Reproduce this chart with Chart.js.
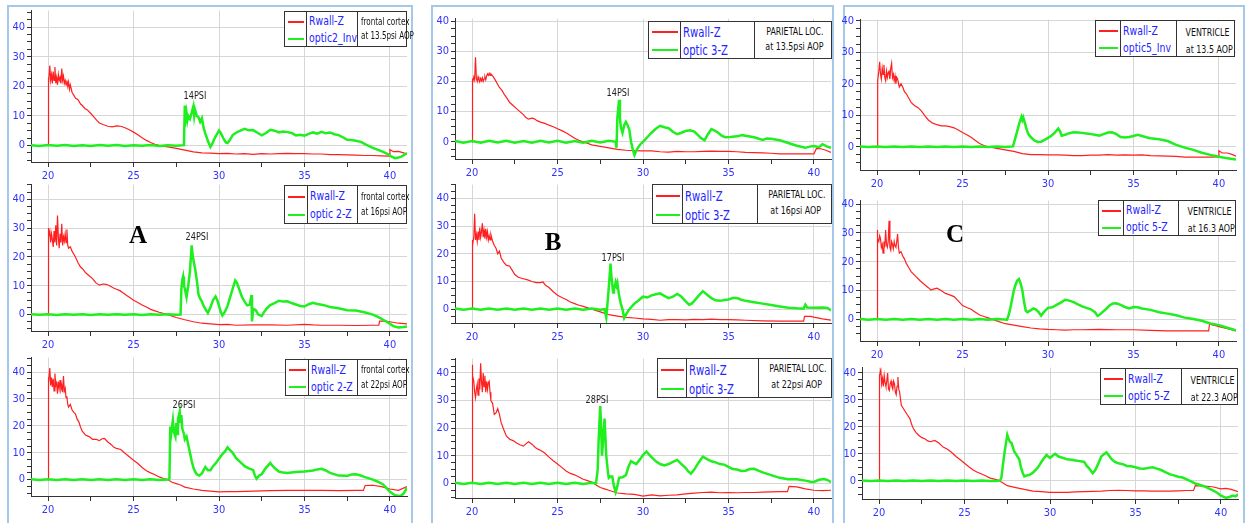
<!DOCTYPE html>
<html>
<head>
<meta charset="utf-8">
<script src="https://cdn.jsdelivr.net/npm/chart.js@4.4.1/dist/chart.umd.min.js"></script>
<style>
  body { margin: 0; width: 1246px; height: 523px; background: #fff; position: relative; overflow: hidden;
         font-family: 'Liberation Sans Narrow', 'DejaVu Sans Condensed', 'Liberation Sans', sans-serif; }
  .panel { position: absolute; border: 2px solid #a6c8e8; box-sizing: border-box; }
  canvas { position: absolute; }
  .lg { position: absolute; border: 1px solid #333; background: #fff; box-sizing: border-box; }
  .cell { position: absolute; top: 0; bottom: 0; }
  .sep { border-left: 1px solid #333; }
  .row { position: absolute; left: 0; right: 0; white-space: nowrap; }
  .row span { display: inline-block; }
  .swatch { position: absolute; left: 3px; right: 3px; height: 2px; }
  .note { position: absolute; color: #222; font-size: 11px; white-space: nowrap; transform: translate(-50%, -50%) scaleX(0.82); }
  .big { position: absolute; font-family: 'Liberation Serif', 'DejaVu Serif', serif; font-weight: bold; font-size: 25px;
         transform: translate(-50%, -50%); color: #000; }
</style>
</head>
<body>
<div class="panel" style="left:7px;top:5px;width:406px;height:540px"></div>
<div class="panel" style="left:431px;top:5px;width:403px;height:540px"></div>
<div class="panel" style="left:843px;top:5px;width:402px;height:540px"></div>
<script>
// ---- data (time in s, value) ----
const xTicks = [20, 22.5, 25, 27.5, 30, 32.5, 35, 37.5, 40];
const yTicks = [-5, -2.5, 0, 2.5, 5, 7.5, 10, 12.5, 15, 17.5, 20, 22.5, 25, 27.5, 30, 32.5, 35, 37.5, 40, 42.5, 45];

const redA1 = [[20,0],[20,23],[20.05,21],[20.1,27],[20.15,22],[20.2,24],[20.25,21],[20.3,25],[20.35,22],[20.4,26.5],[20.45,21],[20.5,23],[20.55,20.5],[20.6,24],[20.65,22],[20.7,23],[20.75,21],[20.8,26],[20.85,22],[20.9,23.5],[20.95,21],[21,22],[21.05,20.5],[21.1,22],[21.15,20],[21.2,21.5],[21.25,19],[21.3,20.5],[21.4,18],[21.5,17],[21.6,16],[21.75,15.5],[21.9,14],[22,13.5],[22.15,12.5],[22.3,12],[22.5,10.8],[22.7,9.5],[22.85,8.5],[23,7.6],[23.25,7],[23.5,6.5],[23.75,6.3],[24,6.6],[24.25,6.5],[24.5,6],[24.75,5.3],[25,4.5],[25.25,3.6],[25.5,2.6],[25.75,1.7],[26,1],[26.25,0.4],[26.5,0],[27,-0.5],[27.5,-1],[28,-1.6],[28.5,-2.2],[29,-2.5],[29.5,-2.6],[30,-2.8],[30.5,-2.7],[31,-2.9],[31.5,-2.8],[32,-3],[32.5,-2.8],[33,-2.9],[33.5,-2.8],[34,-2.7],[34.5,-2.8],[35,-2.8],[35.5,-2.9],[36,-2.9],[36.5,-3.1],[37,-3.1],[37.5,-3.2],[38,-3.3],[38.5,-3.4],[39,-3.4],[39.5,-3.5],[39.95,-3.6],[40,-1.4],[40.2,-2.1],[40.5,-2],[40.8,-2.5],[41,-3]];
const greenA1 = [[19,0.1],[19.5,-0.15],[20,0.15],[20.5,-0.1],[21,0.15],[21.5,-0.15],[22,0.1],[22.5,-0.15],[23,0.15],[23.5,-0.1],[24,0.15],[24.5,-0.15],[25,0.1],[25.5,-0.1],[26,0.15],[26.5,-0.15],[27,0.1],[27.5,-0.1],[27.95,0.1],[28,13.5],[28.05,9],[28.1,11],[28.15,8.5],[28.2,10],[28.3,9],[28.4,11],[28.5,13.2],[28.55,10],[28.6,12],[28.7,10],[28.8,9.5],[28.9,8],[29,9.2],[29.1,6],[29.2,4],[29.35,1.5],[29.5,-0.5],[29.6,0.5],[29.75,2.5],[29.9,4],[30,5],[30.1,4.2],[30.25,2.5],[30.4,1],[30.5,0.8],[30.65,2],[30.8,3.5],[31,4.3],[31.25,5],[31.5,5.6],[31.75,5.1],[32,5.2],[32.25,4.3],[32.5,3.4],[32.75,4.2],[33,5.3],[33.25,5],[33.5,4.4],[33.75,4.7],[34,4.5],[34.25,4.2],[34.5,3.4],[34.75,3.6],[35,3.3],[35.25,3.9],[35.5,4.4],[35.75,4],[36,4.6],[36.25,4.1],[36.5,4.4],[36.75,3.8],[37,3.5],[37.3,2.6],[37.5,1.9],[37.75,1.8],[38,1.6],[38.3,1.2],[38.6,0.3],[39,-0.8],[39.3,-1.5],[39.6,-2.2],[39.9,-3],[40.1,-3.8],[40.3,-4.3],[40.5,-4.1],[40.7,-3.7],[41,-2.6]];

const redA2 = [[20,0],[20,30],[20.05,27],[20.1,29],[20.15,25],[20.2,28],[20.25,26],[20.3,23.5],[20.35,29],[20.4,25],[20.45,31],[20.5,24],[20.55,34.4],[20.6,27],[20.65,23],[20.7,28],[20.75,25],[20.8,31.5],[20.85,24],[20.9,27],[20.95,25.5],[21,28],[21.05,25],[21.1,29.5],[21.15,24],[21.2,23],[21.3,23.5],[21.4,22],[21.5,21],[21.6,20],[21.75,18],[21.9,16.5],[22,16],[22.2,14.5],[22.4,13.5],[22.6,12.5],[22.8,11],[23,10.2],[23.2,10.6],[23.4,10.5],[23.6,10],[23.8,9.3],[24,8.8],[24.2,8.3],[24.4,7.5],[24.6,6.6],[24.8,5.8],[25,5],[25.25,4.2],[25.5,3.3],[25.75,2.6],[26,1.8],[26.25,1.3],[26.5,0.8],[27,0],[27.5,-1],[28,-1.8],[28.5,-2.5],[29,-3],[29.5,-3.2],[30,-3.5],[30.5,-3.4],[31,-3.7],[32,-3.6],[33,-3.6],[34,-3.7],[35,-3.4],[35.5,-3.6],[36,-3.7],[37,-3.7],[38,-3.8],[39,-3.7],[39.35,-3.7],[39.4,-2.3],[39.7,-2.3],[40,-2.5],[40.5,-3],[41,-3.2]];
const greenA2 = [[19,0.1],[19.5,-0.1],[20,0.15],[20.5,-0.15],[21,0.1],[21.5,-0.1],[22,0.15],[22.5,-0.15],[23,0.1],[23.5,-0.1],[24,0.15],[24.5,-0.1],[25,0.1],[25.5,-0.15],[26,0.15],[26.5,-0.1],[27,0.1],[27.5,-0.1],[27.75,0],[27.8,9],[27.85,12],[27.9,13.2],[27.95,10],[28,9],[28.1,6],[28.2,10],[28.3,15],[28.4,24],[28.45,21],[28.5,19],[28.6,16],[28.7,12],[28.8,7],[28.9,5.5],[29,4.5],[29.1,3],[29.2,2],[29.35,0.5],[29.5,2.5],[29.65,5],[29.8,6.3],[29.9,5],[30,3],[30.1,1],[30.2,-0.3],[30.35,1],[30.5,3],[30.65,6],[30.8,9],[30.95,11.8],[31.05,11],[31.2,8.5],[31.35,6],[31.5,4.5],[31.65,3.2],[31.8,3.5],[31.9,6.8],[31.93,-2.4],[32,2],[32.15,1.5],[32.3,0],[32.5,-0.5],[32.65,1],[32.8,2.2],[33,3.3],[33.25,4],[33.5,4.8],[33.75,4.5],[34,4.6],[34.25,4],[34.5,3.5],[34.75,3],[35,2.8],[35.25,3.6],[35.5,4.1],[35.75,3.7],[36,3.4],[36.25,3.1],[36.5,2.6],[37,2.2],[37.5,1.5],[38,1.4],[38.5,0.8],[39,0],[39.3,-0.8],[39.6,-1.8],[39.9,-2.8],[40.2,-4],[40.5,-4.5],[40.8,-4.3],[41,-4.1]];

const redA3 = [[20,0],[20,38],[20.05,36],[20.1,41.5],[20.15,35],[20.2,38],[20.25,34.5],[20.3,37.5],[20.35,33],[20.4,39.5],[20.45,35],[20.5,36],[20.55,32],[20.6,36.5],[20.65,34],[20.7,37],[20.75,33.5],[20.8,35],[20.85,32.5],[20.9,38.5],[20.95,33],[21,34],[21.05,30.5],[21.1,31],[21.15,28],[21.2,27],[21.3,28],[21.4,26],[21.5,25],[21.6,24.5],[21.7,22.5],[21.8,21.5],[21.9,19.5],[22,18],[22.2,16.5],[22.4,16],[22.6,15],[22.8,15],[23,14.5],[23.15,15.2],[23.3,15.3],[23.5,14],[23.7,13],[23.85,12],[24,11.6],[24.25,11.2],[24.5,9.8],[24.75,8.5],[25,7.2],[25.25,6],[25.5,4.5],[25.75,3.3],[26,2.5],[26.25,1.8],[26.5,1],[26.75,0.4],[27,0],[27.25,-1],[27.5,-1.5],[27.75,-2],[28,-2.8],[28.5,-3.5],[29,-4],[29.5,-4.3],[30,-4.6],[30.5,-4.5],[31,-4.5],[32,-4.3],[33,-4.1],[34,-4],[35,-4],[36,-4],[37,-4.1],[38,-4],[38.45,-4],[38.55,-2.2],[39,-2.1],[39.5,-2.6],[40,-3.5],[40.5,-4],[41,-2.6]];
const greenA3 = [[19,0.1],[19.5,-0.15],[20,0.1],[20.5,-0.1],[21,0.15],[21.5,-0.1],[22,0.1],[22.5,-0.15],[23,0.15],[23.5,-0.1],[24,0.1],[24.5,-0.1],[25,0.15],[25.5,-0.15],[26,0.1],[26.5,-0.1],[27.05,0],[27.1,0.5],[27.15,19.8],[27.2,17],[27.3,22],[27.35,18],[27.45,16],[27.5,21],[27.55,17],[27.6,22.5],[27.7,25.3],[27.75,21],[27.8,24],[27.85,19],[27.95,17],[28,15],[28.1,16],[28.2,13],[28.3,10],[28.4,7],[28.5,4.5],[28.6,3],[28.7,2],[28.85,1.5],[29,2.3],[29.2,4.7],[29.35,3.5],[29.5,3.5],[29.65,5],[29.8,6],[30,7.8],[30.2,9.5],[30.35,10.5],[30.5,12],[30.65,11],[30.8,10],[31,8],[31.25,6.5],[31.5,5],[31.75,4.2],[32,3.5],[32.1,1.5],[32.2,0.3],[32.35,1.5],[32.5,2],[32.7,4],[32.9,5.5],[33,6.2],[33.15,5],[33.3,4],[33.5,3],[33.75,2.6],[34,2.5],[34.5,2.8],[35,3],[35.5,3.4],[35.75,3.8],[36,4],[36.25,3.4],[36.5,2.5],[37,1.5],[37.5,1.4],[37.75,1.9],[38,2],[38.25,1.6],[38.5,1],[39,0],[39.3,-0.8],[39.6,-1.8],[40,-4.5],[40.3,-5.8],[40.6,-6.2],[40.8,-5.2],[41,-3]];

const redB1 = [[20,0],[20,21],[20.05,19.5],[20.1,21.5],[20.15,20.5],[20.2,28],[20.25,21],[20.3,20],[20.35,21.5],[20.4,20.5],[20.45,20],[20.5,21],[20.55,20.2],[20.6,21.2],[20.65,20],[20.7,20.8],[20.75,21.5],[20.8,20.5],[20.85,21.8],[20.9,22.5],[20.95,22],[21,22.7],[21.05,22],[21.1,22.5],[21.2,21.8],[21.3,21],[21.4,20],[21.5,19],[21.6,18],[21.75,17],[21.9,15.5],[22,14.8],[22.2,13],[22.4,12],[22.6,11],[22.8,10],[23,9],[23.15,8],[23.3,7.5],[23.5,7.8],[23.65,7.6],[23.8,7],[24,6.5],[24.25,6.1],[24.5,5.5],[24.75,5],[25,4.3],[25.25,3.7],[25.5,3],[25.75,2.1],[26,1.2],[26.25,0.5],[26.5,0],[27,-1],[27.5,-1.5],[28,-2],[28.5,-2.5],[29,-2.8],[29.5,-2.9],[30,-3],[30.5,-3],[31,-3.3],[31.5,-3.4],[32,-3.2],[32.5,-3.3],[33,-3.3],[33.5,-3.2],[34,-3.1],[34.5,-3.2],[35,-3.2],[35.5,-3.3],[36,-3.5],[36.5,-3.6],[37,-3.7],[37.5,-3.8],[38,-4],[38.5,-4],[39,-4],[39.5,-4],[40,-4],[40.15,-2.2],[40.4,-2.3],[40.7,-2.8],[41,-3.5]];
const greenB1 = [[19,0.3],[19.5,-0.3],[20,0.25],[20.5,-0.3],[21,0.3],[21.5,-0.25],[22,0.3],[22.5,-0.3],[23,0.25],[23.5,-0.3],[24,0.3],[24.5,-0.25],[25,0.3],[25.5,-0.3],[26,0.25],[26.5,-0.3],[27,0.3],[27.5,-0.25],[28,0.3],[28.4,0],[28.45,-2],[28.5,8],[28.6,13.9],[28.65,8],[28.7,5],[28.8,3],[28.9,5.5],[29,6.6],[29.1,5.5],[29.2,4],[29.3,0],[29.4,-2.5],[29.5,-4.4],[29.6,-3],[29.7,-2],[29.85,-0.8],[30,0],[30.25,1.5],[30.5,3],[30.75,4.3],[31,5.3],[31.25,4.8],[31.5,4.5],[31.75,3.3],[32,2.5],[32.25,3],[32.5,3.6],[32.75,3.8],[33,3.4],[33.2,2.3],[33.4,1.2],[33.6,0.5],[33.8,2.5],[34,4.2],[34.2,3.7],[34.4,3],[34.6,2],[34.8,1.5],[35.1,1.6],[35.5,1.8],[35.8,2.2],[36,2],[36.5,1.5],[37,0.6],[37.25,1.1],[37.5,1],[38,0.5],[38.5,-0.4],[39,-1.3],[39.5,-2],[39.75,-1.6],[40,-1.4],[40.3,-1.8],[40.5,-0.8],[40.75,-1.5],[41,-2]];

const redB2 = [[20,0],[20,25],[20.05,23],[20.1,26],[20.15,34.5],[20.2,25],[20.25,27],[20.3,24.5],[20.35,28],[20.4,25],[20.45,29.5],[20.5,26],[20.55,28],[20.6,31],[20.65,26],[20.7,28.5],[20.75,25.5],[20.8,29],[20.85,26],[20.9,28],[20.95,25],[21,26.5],[21.05,25],[21.1,27],[21.2,24.5],[21.3,23],[21.4,22],[21.5,20],[21.6,21],[21.7,18.5],[21.85,17],[22,15.9],[22.2,15.5],[22.35,14],[22.5,12.5],[22.7,11.5],[23,11],[23.25,10.6],[23.5,10],[23.75,9.6],[24,9.6],[24.15,9.8],[24.3,8.6],[24.5,7.8],[24.75,6.3],[25,5],[25.25,4.2],[25.5,3.5],[25.75,2.6],[26,2],[26.25,1.4],[26.5,1],[27,0],[27.5,-1],[27.85,-1.7],[28,-2],[28.5,-2.5],[29,-3],[29.5,-3.2],[30,-3.5],[30.5,-3.7],[31,-4],[31.5,-3.8],[32,-3.8],[32.5,-3.9],[33,-3.7],[33.5,-3.8],[34,-3.6],[34.5,-3.8],[35,-3.8],[35.5,-3.9],[36,-4],[37,-4.2],[38,-4.3],[39,-4.3],[39.4,-4.3],[39.45,-2.6],[39.8,-2.6],[40,-2.9],[40.5,-3.5],[41,-4]];
const greenB2 = [[19,0.2],[19.5,-0.2],[20,0.25],[20.5,-0.2],[21,0.2],[21.5,-0.25],[22,0.2],[22.5,-0.2],[23,0.25],[23.5,-0.2],[24,0.2],[24.5,-0.25],[25,0.2],[25.5,-0.2],[26,0.25],[26.5,-0.2],[27,0.2],[27.5,-0.2],[27.75,0],[27.85,-3],[27.95,4],[28,8],[28.1,16.5],[28.15,12],[28.25,6],[28.3,7],[28.4,9.7],[28.45,8.5],[28.5,9.5],[28.6,5],[28.7,2],[28.8,0],[28.9,-3.2],[29,-2],[29.2,0],[29.5,2],[29.75,3.2],[30,4.5],[30.25,4.2],[30.5,5],[30.75,5.4],[31,5.7],[31.25,4.8],[31.5,4],[31.75,4.5],[32,5.5],[32.2,4.8],[32.35,3.8],[32.5,2.8],[32.7,1.6],[32.85,2],[33,3],[33.25,4.8],[33.5,6.5],[33.75,5.2],[34,4],[34.25,3.2],[34.5,3],[34.75,3.3],[35,3.5],[35.25,4],[35.5,4],[35.75,3.4],[36,3],[36.5,2.5],[37,2],[37.5,1.5],[38,1],[38.5,0.5],[39,0.3],[39.4,0.2],[39.5,1.6],[39.6,0.6],[40,0.5],[40.5,0.6],[40.8,0.4],[41,-0.5]];

const redB3 = [[20,0],[20,43],[20.05,39],[20.1,37],[20.15,33],[20.2,31],[20.25,34],[20.3,36],[20.35,32],[20.4,38],[20.45,34],[20.5,43.5],[20.55,37],[20.6,33],[20.65,40],[20.7,35],[20.75,39],[20.8,33],[20.85,37],[20.9,34],[20.95,36.5],[21,37],[21.05,33],[21.1,30],[21.2,29],[21.3,25],[21.4,25.5],[21.5,27.1],[21.6,25],[21.7,22],[21.85,19.5],[22,17.2],[22.2,16],[22.4,15.5],[22.6,14.6],[22.8,14],[23,13.5],[23.15,14.3],[23.3,15.1],[23.5,14.2],[23.7,13],[23.85,12.4],[24,12],[24.25,11],[24.5,9.5],[24.75,8.2],[25,7],[25.25,5.8],[25.5,4.5],[25.75,3.6],[26,3.1],[26.25,2.3],[26.5,1.5],[26.75,1],[27,0.5],[27.25,-0.6],[27.5,-1.5],[27.75,-2],[28,-2.5],[28.5,-3.5],[29,-3.8],[29.5,-4],[30,-4.6],[30.5,-4.2],[31,-4.5],[31.5,-4.3],[32,-4.2],[32.5,-3.8],[33,-3.5],[33.5,-3.3],[34,-3.2],[34.5,-3.4],[35,-3.3],[35.5,-3.4],[36,-3.3],[36.5,-3.3],[37,-3.2],[37.5,-3.1],[38,-3],[38.45,-3],[38.55,-1.1],[39,-1.3],[39.5,-2],[40,-2.5],[40.5,-2.6],[41,-2.5]];
const greenB3 = [[19,0.2],[19.5,-0.2],[20,0.25],[20.5,-0.2],[21,0.2],[21.5,-0.25],[22,0.2],[22.5,-0.2],[23,0.25],[23.5,-0.2],[24,0.2],[24.5,-0.25],[25,0.2],[25.5,-0.2],[26,0.25],[26.5,-0.2],[27,0.2],[27.25,0],[27.35,5],[27.4,15],[27.45,22],[27.5,28],[27.55,20],[27.6,10],[27.65,14],[27.7,19],[27.75,23.5],[27.8,17],[27.85,10],[27.95,4],[28,2],[28.1,2.5],[28.2,2.5],[28.3,-1],[28.4,-3.2],[28.5,-1],[28.6,2],[28.8,2.2],[29,3],[29.15,6],[29.3,8],[29.45,7.5],[29.6,7],[29.8,8.5],[30,10.3],[30.2,11.5],[30.35,10.5],[30.5,9.5],[30.75,8],[31,7],[31.25,6.5],[31.5,7],[31.75,7.8],[32,8.5],[32.25,7],[32.5,5.5],[32.65,4.3],[32.8,3.5],[33,5],[33.25,7.5],[33.5,9.7],[33.75,8.8],[34,8],[34.25,7.6],[34.5,7],[34.75,6.8],[35,6],[35.25,5.2],[35.5,5],[35.75,4.5],[36,4.6],[36.25,5.2],[36.5,5.3],[36.75,4.6],[37,4],[37.5,3],[38,2],[38.5,1.5],[39,1.5],[39.5,1],[39.8,0.6],[40,0.5],[40.3,1.3],[40.6,1.6],[40.8,1.2],[41,0.4]];

const redC1 = [[20,0],[20.02,10],[20.05,21],[20.1,24],[20.15,27],[20.2,23],[20.25,21.5],[20.3,25],[20.35,23],[20.4,26],[20.45,22],[20.5,21],[20.55,24],[20.6,22],[20.65,23.5],[20.7,24],[20.75,21.5],[20.8,25],[20.85,26.5],[20.9,22],[20.95,23],[21,21],[21.05,22.5],[21.1,20],[21.15,22],[21.2,21.5],[21.3,19],[21.4,20],[21.5,19],[21.6,17.5],[21.7,16.9],[21.85,15.5],[22,14],[22.2,13],[22.4,12.4],[22.6,11.3],[22.8,9.8],[23,8.5],[23.25,7.5],[23.5,7],[23.75,6.6],[24,6.6],[24.25,6.4],[24.5,6],[24.75,5.3],[25,4.5],[25.25,3.8],[25.5,3],[25.75,2],[26,1],[26.25,0.4],[26.5,0],[27,-0.5],[27.5,-1],[28,-1.5],[28.5,-2.2],[29,-2.5],[29.5,-2.5],[30,-2.6],[30.5,-2.6],[31,-2.7],[31.5,-2.8],[32,-2.8],[32.5,-2.7],[33,-2.7],[33.5,-2.5],[34,-2.7],[34.5,-2.6],[35,-2.7],[35.5,-2.6],[36,-2.8],[36.5,-2.9],[37,-3],[37.5,-3.1],[38,-3.3],[38.5,-3.3],[39,-3.3],[39.5,-3.3],[39.95,-3.2],[40,-1.3],[40.2,-2],[40.5,-2],[40.8,-2.5],[41,-3]];
const greenC1 = [[19,0.1],[19.5,-0.1],[20,0.1],[20.5,-0.1],[21,0.1],[21.5,-0.1],[22,0.1],[22.5,-0.1],[23,0.1],[23.5,-0.1],[24,0.1],[24.5,-0.1],[25,0.1],[25.5,-0.1],[26,0.1],[26.5,-0.1],[27,0.1],[27.5,-0.1],[27.95,0.1],[28.05,2],[28.15,4],[28.25,6],[28.35,8],[28.45,9.5],[28.5,8.5],[28.55,9.3],[28.65,7.5],[28.75,5.5],[28.85,4],[29,3],[29.2,2],[29.4,1.5],[29.6,1.6],[29.8,2.2],[30,2.8],[30.2,3.5],[30.4,4.5],[30.6,5.8],[30.7,5],[30.8,3.5],[31,3.8],[31.25,4.3],[31.5,4.6],[31.75,4.5],[32,4.4],[32.25,4.2],[32.5,4],[32.75,3.8],[33,3.5],[33.25,4],[33.5,4.5],[33.75,4.6],[34,4],[34.25,3.1],[34.5,2.9],[34.75,3.1],[35,3.4],[35.25,3.8],[35.5,3.4],[35.75,3],[36,2.7],[36.5,2.4],[37,1.8],[37.5,0.6],[38,-0.3],[38.5,-1],[39,-1.9],[39.5,-2.6],[40,-3.2],[40.5,-3.7],[41,-4.1]];

const redC2 = [[20,0],[20,31],[20.05,28],[20.1,27],[20.15,29],[20.2,28],[20.25,25],[20.3,26],[20.35,23],[20.4,27],[20.45,25],[20.5,31],[20.55,26],[20.6,25],[20.65,27],[20.7,34.2],[20.75,25],[20.8,24],[20.85,27],[20.9,26],[20.95,24.5],[21,27],[21.05,25.5],[21.1,25],[21.15,27],[21.2,29.6],[21.25,25],[21.3,23],[21.4,23.5],[21.5,22],[21.6,21],[21.7,19.5],[21.85,18],[22,16.5],[22.25,15],[22.5,13.5],[22.75,12.2],[23,11],[23.15,10.2],[23.3,10.5],[23.5,10.8],[23.75,10],[24,9],[24.25,8.5],[24.5,7.9],[24.75,6.4],[25,4.8],[25.25,4.1],[25.5,3.5],[25.75,2.5],[26,1.5],[26.25,1],[26.5,0.5],[27,-0.5],[27.5,-1.5],[28,-2],[28.5,-2.5],[29,-3],[29.5,-3.3],[30,-3.5],[30.5,-3.6],[31,-3.7],[31.5,-3.6],[32,-3.6],[33,-3.5],[34,-3.6],[35,-3.6],[36,-3.8],[37,-4],[38,-4],[39,-4],[39.4,-4],[39.45,-1.7],[39.8,-2.2],[40,-2.5],[40.5,-3.2],[41,-4]];
const greenC2 = [[19,0.1],[19.5,-0.1],[20,0.1],[20.5,-0.1],[21,0.1],[21.5,-0.1],[22,0.1],[22.5,-0.1],[23,0.1],[23.5,-0.1],[24,0.1],[24.5,-0.1],[25,0.1],[25.5,-0.1],[26,0.1],[26.5,-0.1],[27,0.1],[27.6,-0.1],[27.7,1.5],[27.8,4],[27.9,7],[28,10],[28.1,12],[28.2,13.5],[28.3,14],[28.4,12.5],[28.5,10],[28.6,6],[28.7,3],[28.8,2.5],[29,3.2],[29.15,3.8],[29.3,3.4],[29.45,2.5],[29.6,1.3],[29.75,2.5],[30,4],[30.25,4.2],[30.5,5],[30.75,5.8],[31,6.8],[31.25,6.5],[31.5,6],[31.75,5.2],[32,4.5],[32.25,4],[32.5,3.5],[32.75,2.5],[32.9,1.2],[33,1.5],[33.2,2.6],[33.4,3.6],[33.6,4.8],[33.8,5.5],[34,5.6],[34.25,5],[34.5,4.3],[34.75,3.8],[35,4.3],[35.25,4.2],[35.5,3.8],[36,3.3],[36.5,2.5],[37,2],[37.5,1.4],[38,0.6],[38.5,0.1],[39,-0.5],[39.5,-1.4],[40,-2],[40.5,-2.9],[41,-3.8]];

const redC3 = [[20,0],[20,37],[20.05,39],[20.1,41.2],[20.15,36],[20.2,38],[20.25,35],[20.3,39],[20.35,36.5],[20.4,35],[20.45,37],[20.5,40],[20.55,34],[20.6,33.5],[20.65,36],[20.7,37],[20.75,35],[20.8,34],[20.85,37],[20.9,36],[20.95,33],[21,32],[21.05,35],[21.1,38.5],[21.15,34],[21.2,33],[21.3,28],[21.4,27],[21.5,26],[21.65,24.5],[21.8,23.1],[21.9,21],[22,19.5],[22.15,18],[22.3,17],[22.5,16],[22.7,15.5],[22.85,14.8],[23,14.5],[23.25,15],[23.5,14],[23.75,12.5],[24,11.7],[24.25,10.5],[24.5,9],[24.75,7.8],[25,6.5],[25.25,5.2],[25.5,4],[25.75,3.2],[26,2.5],[26.25,1.8],[26.5,1],[26.75,0.6],[27,0.2],[27.25,-0.8],[27.5,-1.8],[28,-2.5],[28.5,-3.2],[29,-3.8],[29.5,-4],[30,-4.3],[30.5,-4.3],[31,-4.3],[31.5,-4.1],[32,-4],[32.5,-3.9],[33,-3.8],[33.5,-3.6],[34,-3.5],[34.5,-3.6],[35,-3.7],[35.5,-3.7],[36,-3.8],[36.5,-3.8],[37,-3.8],[37.5,-3.7],[38,-3.6],[38.4,-3.6],[38.5,-1.8],[39,-2],[39.5,-2.2],[40,-3],[40.3,-2.8],[40.6,-3.2],[41,-4]];
const greenC3 = [[19,0.1],[19.5,-0.1],[20,0.1],[20.5,-0.1],[21,0.1],[21.5,-0.1],[22,0.1],[22.5,-0.1],[23,0.1],[23.5,-0.1],[24,0.1],[24.5,-0.1],[25,0.1],[25.5,-0.1],[26,0.1],[26.5,-0.1],[27.05,0],[27.15,1],[27.25,6],[27.35,11],[27.45,15],[27.5,17],[27.55,16],[27.65,14.5],[27.75,14],[27.9,11],[28,10],[28.1,9],[28.2,8],[28.3,5],[28.4,3],[28.5,1.6],[28.65,2],[28.8,2.2],[29,3],[29.15,4],[29.3,5],[29.45,6.5],[29.6,8],[29.8,9.6],[29.9,9],[30,8.5],[30.15,9.3],[30.3,10],[30.5,9],[30.75,8.5],[31,8],[31.25,7.8],[31.5,7.5],[31.75,7.3],[32,7],[32.15,5.5],[32.3,4.5],[32.5,2.8],[32.65,4],[32.8,6],[33,9],[33.15,9.8],[33.3,10.6],[33.45,9.4],[33.6,8],[33.8,7],[34,6.5],[34.25,6.2],[34.5,5.5],[34.75,5.4],[35,5],[35.25,4.6],[35.5,4.5],[35.75,4.8],[36,5],[36.25,4.5],[36.5,4],[36.75,3.2],[37,2.5],[37.25,2],[37.5,1.5],[37.75,1.2],[38,0.5],[38.25,-0.2],[38.5,-1],[39,-2],[39.5,-3.5],[39.8,-4.5],[40,-5.5],[40.3,-6.3],[40.5,-6],[40.7,-5.5],[40.85,-5.8],[41,-5]];

// ---- text ----
const seriesNames = [
  ['Rwall-Z', 'optic2_Inv'], ['Rwall-Z', 'optic 2-Z'], ['Rwall-Z', 'optic 2-Z'],
  ['Rwall-Z', 'optic 3-Z'], ['Rwall-Z', 'optic 3-Z'], ['Rwall-Z', 'optic 3-Z'],
  ['Rwall-Z', 'optic5_Inv'], ['Rwall-Z', 'optic 5-Z'], ['Rwall-Z', 'optic 5-Z']
];
const descriptions = [
  ['frontal cortex', 'at 13.5psi AOP'], ['frontal cortex', 'at 16psi AOP'], ['frontal cortex', 'at 22psi AOP'],
  ['PARIETAL LOC.', 'at 13.5psi AOP'], ['PARIETAL LOC.', 'at 16psi AOP'], ['PARIETAL LOC.', 'at 22psi AOP'],
  ['VENTRICLE', 'at 13.5 AOP'], ['VENTRICLE', 'at 16.3 AOP'], ['VENTRICLE', 'at 22.3 AOP']
];
const peakLabels = ['14PSI', '24PSI', '26PSI', '14PSI', '17PSI', '28PSI', '', '', ''];
const panelLetters = ['A', 'B', 'C'];

// ---- layout: plot rect [l,t,r,b], y range, legend box [l,t,r,b,split1,split2], label pos ----
const layout = [
  { red: redA1, green: greenA1, plot: [31, 10, 407, 162], y: [-5.6, 45.6], lg: [284, 11, 407, 47, 306, 357], note: [195, 95], col: 0 },
  { red: redA2, green: greenA2, plot: [31, 184, 407, 331], y: [-5.7, 45.1], lg: [284, 185, 407, 224, 307, 357], note: [197, 236], col: 0 },
  { red: redA3, green: greenA3, plot: [31, 357, 407, 496], y: [-6.1, 45.4], lg: [285, 359, 407, 396, 308, 357], note: [184, 404], col: 0 },
  { red: redB1, green: greenB1, plot: [455, 18, 831, 159], y: [-5.7, 40.8], lg: [648, 21, 832, 59, 680, 754], note: [618, 92], col: 1 },
  { red: redB2, green: greenB2, plot: [455, 184, 831, 323], y: [-5.0, 45.0], lg: [652, 184, 832, 224, 682, 757], note: [613, 257], col: 1 },
  { red: redB3, green: greenB3, plot: [455, 358, 831, 498], y: [-5.3, 45.2], lg: [657, 358, 832, 398, 686, 758], note: [597, 399], col: 1 },
  { red: redC1, green: greenC1, plot: [860, 19, 1236, 170], y: [-7.4, 40.4], lg: [1095, 20, 1235, 57, 1120, 1176], note: null, col: 2 },
  { red: redC2, green: greenC2, plot: [860, 200, 1236, 341], y: [-7.5, 41.2], lg: [1098, 200, 1236, 236, 1123, 1178], note: null, col: 2 },
  { red: redC3, green: greenC3, plot: [862, 367, 1238, 499], y: [-6.75, 42.0], lg: [1100, 368, 1238, 405, 1125, 1181], note: null, col: 2 }
];
const letterPos = [[138, 235], [553, 242], [955, 234]];

const FONT = "'Liberation Sans Narrow', 'DejaVu Sans Condensed', 'Liberation Sans', sans-serif";
const RED = '#ff1f1f';
const GREEN = '#1fee1f';
const Y_AXIS_W = 30, X_AXIS_H = 22, PAD = 8;

const toPoints = arr => arr.map(([x, y]) => ({ x, y }));

function makeChart(cfg, i) {
  const [l, t, r, b] = cfg.plot;
  const canvas = document.createElement('canvas');
  canvas.width = r - l + Y_AXIS_W + PAD;
  canvas.height = b - t + PAD + X_AXIS_H;
  canvas.style.left = (l - Y_AXIS_W) + 'px';
  canvas.style.top = (t - PAD) + 'px';
  document.body.appendChild(canvas);

  new Chart(canvas, {
    type: 'line',
    data: {
      datasets: [
        { label: seriesNames[i][0], data: toPoints(cfg.red), borderColor: RED, borderWidth: 1.2, order: 2 },
        { label: seriesNames[i][1], data: toPoints(cfg.green), borderColor: GREEN, borderWidth: 2.5, order: 1 }
      ]
    },
    options: {
      responsive: false,
      animation: false,
      layout: { padding: { top: PAD, right: PAD, left: 0, bottom: 0 } },
      elements: { point: { radius: 0 }, line: { tension: 0 } },
      plugins: { legend: { display: false }, tooltip: { enabled: false } },
      scales: {
        x: {
          type: 'linear', min: 19, max: 41,
          afterBuildTicks: s => { s.ticks = xTicks.map(v => ({ value: v })); },
          afterFit: s => { s.height = X_AXIS_H; },
          border: { color: '#333', width: 1 },
          grid: {
            color: c => (c.tick && c.tick.value % 5 === 0) ? '#d6d6d6' : 'rgba(0,0,0,0)',
            tickColor: '#333', tickLength: 5
          },
          ticks: {
            autoSkip: false, maxRotation: 0, padding: 3, color: '#3333ff',
            font: { family: FONT, size: 11 },
            callback: v => (v % 5 === 0 ? v : '')
          }
        },
        y: {
          type: 'linear', min: cfg.y[0], max: cfg.y[1],
          afterBuildTicks: s => { s.ticks = yTicks.filter(v => v >= s.min && v <= s.max).map(v => ({ value: v })); },
          afterFit: s => { s.width = Y_AXIS_W; },
          border: { color: '#333', width: 1 },
          grid: {
            color: c => (c.tick && c.tick.value % 10 === 0 && c.tick.value >= 0) ? '#d6d6d6' : 'rgba(0,0,0,0)',
            tickColor: '#333', tickLength: 4
          },
          ticks: {
            autoSkip: false, padding: 2, color: '#3333ff',
            font: { family: FONT, size: 11 },
            callback: v => (v % 10 === 0 && v >= 0 ? v : '')
          }
        }
      }
    }
  });
}

function textRow(txt, centerY, size, color, align, pad) {
  const row = document.createElement('div');
  row.className = 'row';
  row.style.top = (centerY - size * 0.65) + 'px';
  row.style.fontSize = size + 'px';
  row.style.lineHeight = (size * 1.3) + 'px';
  row.style.color = color;
  row.style.textAlign = align;
  row.style.paddingLeft = pad + 'px';
  const span = document.createElement('span');
  span.textContent = txt;
  span.style.transform = 'scaleX(0.8)';
  span.style.transformOrigin = align === 'center' ? 'center' : 'left';
  row.appendChild(span);
  return row;
}

function makeLegend(cfg, i) {
  const [l, t, r, b, s1, s2] = cfg.lg;
  const h = b - t;
  const box = document.createElement('div');
  box.className = 'lg';
  Object.assign(box.style, { left: l + 'px', top: t + 'px', width: (r - l) + 'px', height: h + 'px' });

  const c1 = document.createElement('div');
  c1.className = 'cell';
  c1.style.left = '0px'; c1.style.width = (s1 - l) + 'px';
  [[RED, 0.27], [GREEN, 0.74]].forEach(([col, f]) => {
    const sw = document.createElement('div');
    sw.className = 'swatch';
    sw.style.background = col;
    sw.style.top = Math.round(h * f - 1) + 'px';
    c1.appendChild(sw);
  });

  const nameSize = cfg.col === 1 ? 14 : 13;
  const c2 = document.createElement('div');
  c2.className = 'cell sep';
  c2.style.left = (s1 - l - 1) + 'px'; c2.style.width = (s2 - s1) + 'px';
  c2.appendChild(textRow(seriesNames[i][0], h * 0.27, nameSize, '#2424ff', 'left', 2));
  c2.appendChild(textRow(seriesNames[i][1], h * 0.74, nameSize, '#2424ff', 'left', 2));

  const descSize = cfg.col === 0 ? 10 : 11;
  const align = cfg.col === 0 ? 'left' : 'center';
  const f1 = cfg.col === 2 ? 0.32 : 0.26;
  const f2 = cfg.col === 2 ? 0.78 : 0.66;
  const c3 = document.createElement('div');
  c3.className = 'cell sep';
  c3.style.left = (s2 - l - 1) + 'px'; c3.style.right = '0px';
  c3.appendChild(textRow(descriptions[i][0], h * f1, descSize, '#111', align, 3));
  c3.appendChild(textRow(descriptions[i][1], h * f2, descSize, '#111', align, 3));

  box.appendChild(c1); box.appendChild(c2); box.appendChild(c3);
  document.body.appendChild(box);

  if (cfg.note && peakLabels[i]) {
    const n = document.createElement('div');
    n.className = 'note';
    n.textContent = peakLabels[i];
    n.style.left = cfg.note[0] + 'px';
    n.style.top = cfg.note[1] + 'px';
    document.body.appendChild(n);
  }
}

layout.forEach((cfg, i) => { makeChart(cfg, i); makeLegend(cfg, i); });

panelLetters.forEach((txt, i) => {
  const d = document.createElement('div');
  d.className = 'big';
  d.textContent = txt;
  d.style.left = letterPos[i][0] + 'px';
  d.style.top = letterPos[i][1] + 'px';
  document.body.appendChild(d);
});
</script>
</body>
</html>
